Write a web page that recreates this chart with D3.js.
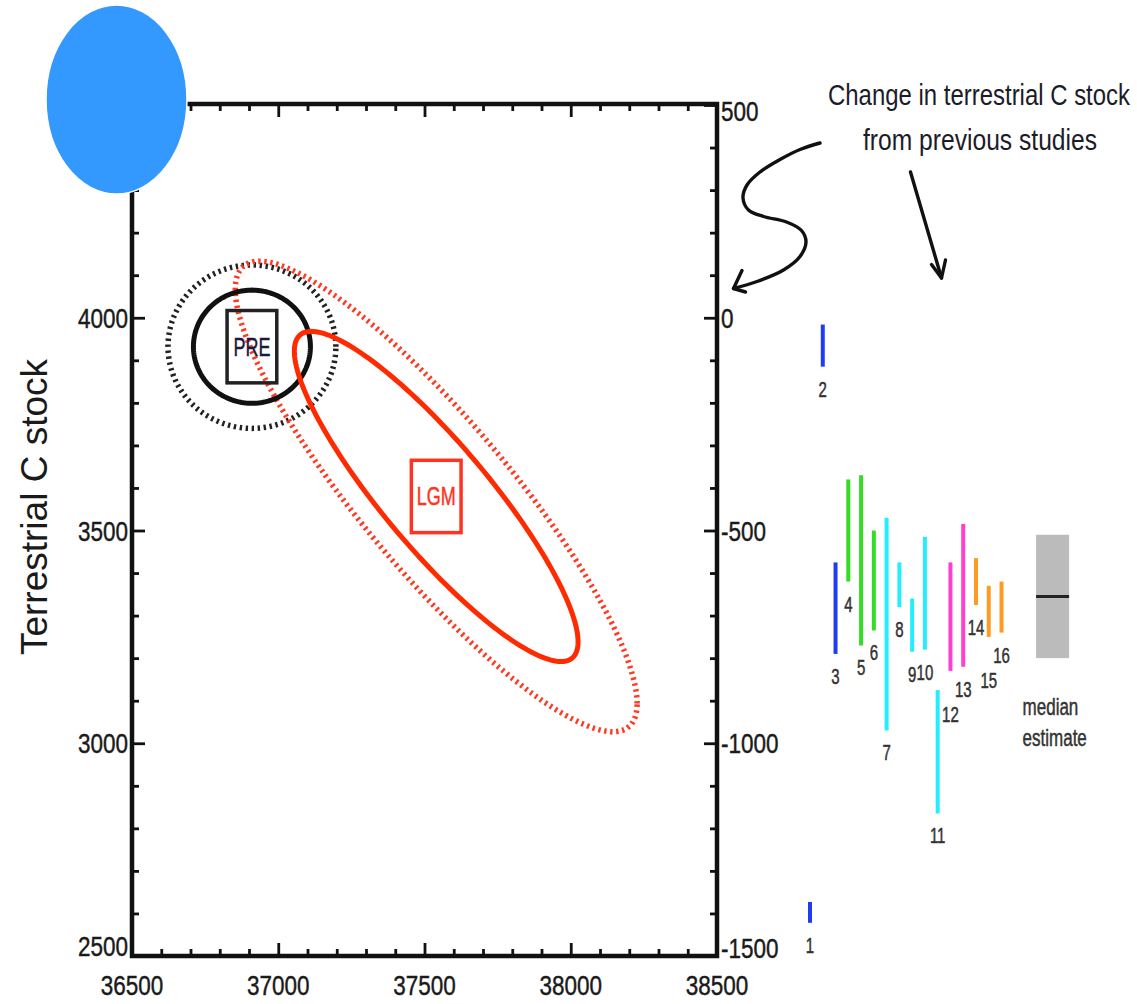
<!DOCTYPE html>
<html>
<head>
<meta charset="utf-8">
<script src="https://cdn.jsdelivr.net/npm/d3@7"></script>
<style>
  html, body { margin: 0; padding: 0; background: #fff; }
  svg { display: block; }
  text { font-family: "Liberation Sans", Arial, sans-serif; }
</style>
</head>
<body>
<svg id="chart" width="1137" height="1004"></svg>
<script>
// ---- axis ticks ----
const xTickLabels = [36500, 37000, 37500, 38000, 38500];
const leftTickLabels = [2500, 3000, 3500, 4000, 4500];
const rightTickLabels = [-1500, -1000, -500, 0, 500];

// ---- uncertainty ellipses (centre, standard deviations, correlation) ----
const periodNames = ["PRE", "LGM"];
const periodCentreX = [36910, 37540];
const periodCentreY = [3932, 3580];
const innerSdX = [200, 485];
const innerSdY = [133, 388];
const innerRho = [0, -0.88];
const outerSdX = [287, 687];
const outerSdY = [192, 553];
const outerRho = [0, -0.88];
const boxHalfX = [85, 85];
const boxHalfY = [85, 85];

// ---- change in terrestrial C stock from earlier studies ----
const studyIds = [1, 2, 3, 4, 5, 6, 7, 8, 9, 10, 11, 12, 13, 14, 15, 16];
const studyLow = [-1422, -115, -790, -620, -770, -735, -970, -680, -785, -780, -1165, -830, -820, -675, -750, -740];
const studyHigh = [-1373, -16, -575, -380, -370, -500, -470, -575, -660, -515, -875, -575, -485, -565, -630, -620];
const studyGroup = ["a", "a", "a", "b", "b", "b", "c", "c", "c", "c", "c", "d", "d", "e", "e", "e"];
const medianRange = [-800, -510];
const medianValue = -655;

const groupColour = { a: "#1f3cf2", b: "#33dd22", c: "#22eeff", d: "#ff3fd0", e: "#ff9a22" };

const svg = d3.select("#chart");
svg.append("rect").attr("width", 1137).attr("height", 1004).attr("fill", "#fff");

const x = d3.scaleLinear().domain([36500, 38500]).range([132, 717]);
const yL = d3.scaleLinear().domain([2500, 4500]).range([956, 105]);
const yR = d3.scaleLinear().domain([-1500, 500]).range([956, 105]);

const textFill = "#1a1a1a";

// text drawn with a slight vertical stretch
function tallText(g, px, py, str, size, sy, anchor, fill) {
  return g.append("text")
    .attr("transform", `translate(${px},${py}) scale(1,${sy})`)
    .attr("text-anchor", anchor)
    .attr("font-size", size)
    .attr("fill", fill)
    .attr("stroke", fill)
    .attr("stroke-width", 0.35)
    .text(str);
}

// ---- ellipses ----
function ellipsePoints(cx, cy, sx, sy, rho) {
  const k = Math.sqrt(1 - rho * rho);
  return d3.range(0, 180).map(i => {
    const t = (i / 180) * 2 * Math.PI;
    return [cx + sx * Math.cos(t), cy + sy * (rho * Math.cos(t) + k * Math.sin(t))];
  });
}
const ellLine = d3.line().x(d => x(d[0])).y(d => yL(d[1])).curve(d3.curveLinearClosed);
const periodColour = ["#111111", "#ff2a00"];
const plot = svg.append("g");

periodNames.forEach((name, i) => {
  plot.append("path")
    .attr("d", ellLine(ellipsePoints(periodCentreX[i], periodCentreY[i], outerSdX[i], outerSdY[i], outerRho[i])))
    .attr("fill", "none")
    .attr("stroke", i === 0 ? "#222" : "#ff3a22")
    .attr("stroke-width", 5.5)
    .attr("stroke-dasharray", "2.4 3.6");
});
periodNames.forEach((name, i) => {
  plot.append("path")
    .attr("d", ellLine(ellipsePoints(periodCentreX[i], periodCentreY[i], innerSdX[i], innerSdY[i], innerRho[i])))
    .attr("fill", "none")
    .attr("stroke", periodColour[i])
    .attr("stroke-width", 5);
  plot.append("rect")
    .attr("x", x(periodCentreX[i] - boxHalfX[i]))
    .attr("y", yL(periodCentreY[i] + boxHalfY[i]))
    .attr("width", x(periodCentreX[i] + boxHalfX[i]) - x(periodCentreX[i] - boxHalfX[i]))
    .attr("height", yL(periodCentreY[i] - boxHalfY[i]) - yL(periodCentreY[i] + boxHalfY[i]))
    .attr("fill", "none")
    .attr("stroke", i === 0 ? "#222" : "#ff3322")
    .attr("stroke-width", 3.5);
  tallText(plot, x(periodCentreX[i]), yL(periodCentreY[i]) + 9, name, 18, 1.45, "middle",
    i === 0 ? "#1a1a40" : "#ff3322");
});

// ---- axes: ticks point inward on all four sides ----
function minorOf(domain) {
  return d3.range(domain[0], domain[1] + 1, 100).filter(v => v % 500 !== 0);
}
const xMinor = minorOf([36500, 38500]);
const yMinor = minorOf([2500, 4500]);
const rMinor = minorOf([-1500, 500]);
const majorLen = -13, minorLen = -7;

function drawAxis(axisFn, scale, major, minor, transform) {
  [[major, majorLen], [minor, minorLen]].forEach(([vals, len]) => {
    const g = svg.append("g").attr("transform", transform)
      .call(axisFn(scale).tickValues(vals).tickSize(len).tickFormat(""));
    g.select(".domain").remove();
    g.selectAll(".tick line").attr("stroke", "#111").attr("stroke-width", 2.8);
  });
}
drawAxis(d3.axisBottom, x, xTickLabels, xMinor, "translate(0,956)");
drawAxis(d3.axisTop, x, xTickLabels, xMinor, "translate(0,104)");
drawAxis(d3.axisLeft, yL, leftTickLabels, yMinor, "translate(132,0)");
drawAxis(d3.axisRight, yR, rightTickLabels, rMinor, "translate(717,0)");

svg.append("rect")
  .attr("x", 132).attr("y", 104)
  .attr("width", 717 - 132).attr("height", 956 - 104)
  .attr("fill", "none").attr("stroke", "#111").attr("stroke-width", 4.5);

const labels = svg.append("g");
const axisSize = 22.5, axisStretch = 1.25;
xTickLabels.forEach(v => tallText(labels, x(v), 995, String(v), axisSize, axisStretch, "middle", textFill));
leftTickLabels.forEach(v => {
  const nudge = v === 2500 ? -10 : 0;
  tallText(labels, 128, yL(v) + 10 + nudge, String(v), axisSize, axisStretch, "end", textFill);
});
rightTickLabels.forEach(v => {
  const nudge = v === -1500 ? -8 : (v === 500 ? 6 : 0);
  tallText(labels, 721, yR(v) + 10 + nudge, String(v), axisSize, axisStretch, "start", textFill);
});
labels.append("text")
  .attr("transform", "translate(47,507) rotate(-90)")
  .attr("text-anchor", "middle")
  .attr("font-size", 37)
  .attr("fill", textFill)
  .text("Terrestrial C stock");

// ---- study ranges ----
const sx = d3.scaleLinear().domain([1, 20]).range([810, 1052.6]);
const studies = svg.append("g");
studyIds.forEach((id, i) => {
  studies.append("line")
    .attr("x1", sx(id)).attr("x2", sx(id))
    .attr("y1", yR(studyHigh[i])).attr("y2", yR(studyLow[i]))
    .attr("stroke", groupColour[studyGroup[i]])
    .attr("stroke-width", 4);
  const drop = (id === 12 || id === 15) ? 51 : 30;
  tallText(studies, sx(id), yR(studyLow[i]) + drop, String(id), 15, 1.5, "middle", "#333");
});
studies.append("rect")
  .attr("x", sx(20) - 16.5).attr("width", 33)
  .attr("y", yR(medianRange[1]))
  .attr("height", yR(medianRange[0]) - yR(medianRange[1]))
  .attr("fill", "#bbbbbb");
studies.append("line")
  .attr("x1", sx(20) - 16.5).attr("x2", sx(20) + 16.5)
  .attr("y1", yR(medianValue)).attr("y2", yR(medianValue))
  .attr("stroke", "#222").attr("stroke-width", 3);
tallText(studies, sx(20) - 30, 715, "median", 17, 1.45, "start", "#333");
tallText(studies, sx(20) - 30, 746, "estimate", 17, 1.45, "start", "#333");

// ---- hand-drawn annotation ----
const note = svg.append("g");
note.append("ellipse")
  .attr("cx", 116.5).attr("cy", 99.5).attr("rx", 70.5).attr("ry", 94.5)
  .attr("fill", "#3399ff").attr("stroke", "#fff").attr("stroke-width", 1.5);

const noteFont = "'Open Sans', 'Liberation Sans', sans-serif";
[["Change in terrestrial C stock", 979, 105, 302], ["from previous studies", 980, 150, 234]]
  .forEach(([str, px, py, len]) => {
    note.append("text")
      .attr("transform", `translate(${px},${py}) scale(1,1.3)`)
      .attr("text-anchor", "middle")
      .attr("font-family", noteFont)
      .attr("font-size", 22)
      .attr("fill", "#1c1c28")
      .attr("textLength", len)
      .attr("lengthAdjust", "spacingAndGlyphs")
      .text(str);
  });

const stroke = d3.line().curve(d3.curveCatmullRom.alpha(0.5));
const squiggle = [[820, 143], [800, 149.5], [780, 159.5], [760, 172], [747, 185], [743, 198],
  [748.5, 210], [763.5, 216.5], [786.5, 222], [801.5, 230.5], [806, 242], [800, 256.5],
  [783.5, 270], [757, 281.5], [733.5, 288.5]];
const arrowStyle = p => p.attr("fill", "none").attr("stroke", "#111").attr("stroke-width", 3.4)
  .attr("stroke-linecap", "round").attr("stroke-linejoin", "round");
note.append("path").attr("d", stroke(squiggle)).call(arrowStyle);
note.append("path").attr("d", d3.line()([[742, 270.5], [733.5, 288.5], [745.5, 292]])).call(arrowStyle);
note.append("path").attr("d", d3.line()([[910.5, 172], [941.5, 278]])).call(arrowStyle);
note.append("path").attr("d", d3.line()([[931.5, 264.5], [941.5, 278], [945.5, 260]])).call(arrowStyle);
</script>
</body>
</html>
